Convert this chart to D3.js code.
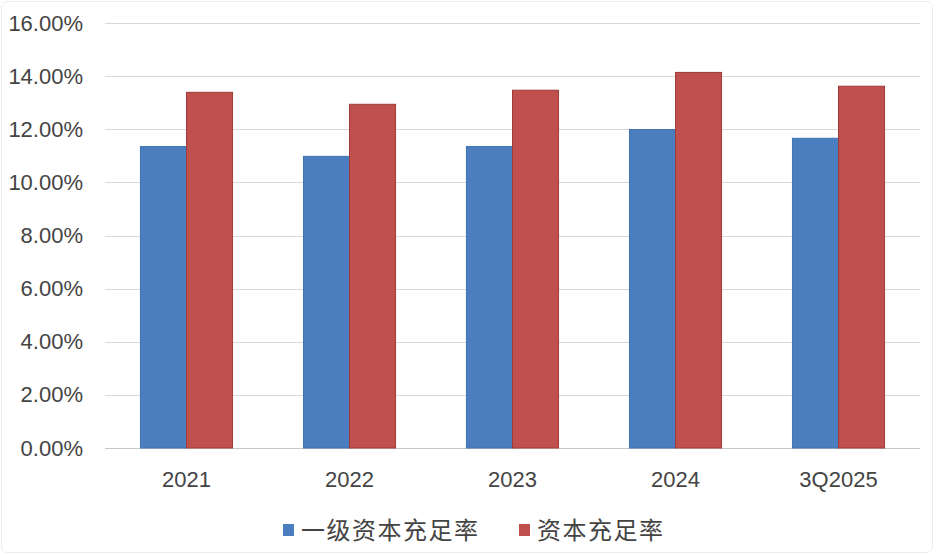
<!DOCTYPE html>
<html>
<head>
<meta charset="utf-8">
<script src="https://cdn.jsdelivr.net/npm/d3@7/dist/d3.min.js"></script>
<style>
  html, body { margin: 0; padding: 0; background: #fff; }
  #chart { width: 936px; height: 554px; }
</style>
</head>
<body>
<div id="chart"></div>
<script>
// chart data
const categories = ["2021", "2022", "2023", "2024", "3Q2025"];
const seriesNames = ["一级资本充足率", "资本充足率"];
const tier1Ratio = [11.35, 10.98, 11.35, 11.99, 11.66];
const capitalRatio = [13.39, 12.94, 13.47, 14.14, 13.62];
const yTicks = [0, 2, 4, 6, 8, 10, 12, 14, 16];

const colors = ["#4a7ebf", "#c0504d"];
const strokes = ["#4173b0", "#9e3b38"];

const width = 936,
  height = 554,
  margin = { top: 23, right: 16, bottom: 106, left: 105 };
const innerW = width - margin.left - margin.right;
const innerH = height - margin.top - margin.bottom;

const svg = d3
  .select("#chart")
  .append("svg")
  .attr("width", width)
  .attr("height", height);

// faint frame around the picture
svg
  .append("rect")
  .attr("x", 1.5)
  .attr("y", 1.5)
  .attr("width", width - 5)
  .attr("height", height - 3)
  .attr("rx", 6)
  .attr("fill", "#fff")
  .attr("stroke", "#ececec");

const g = svg
  .append("g")
  .attr("transform", "translate(" + margin.left + "," + margin.top + ")");

const x0 = d3.scaleBand().domain(categories).range([0, innerW]).paddingInner(0.435).paddingOuter(0.2175);
const x1 = d3.scaleBand().domain([0, 1]).range([0, x0.bandwidth()]);
const y = d3.scaleLinear().domain([0, 16]).range([innerH, 0]);

// gridlines
g.append("g")
  .selectAll("line")
  .data(yTicks)
  .enter()
  .append("line")
  .attr("x1", 0)
  .attr("x2", innerW)
  .attr("y1", (d) => Math.round(y(d)) + 0.5)
  .attr("y2", (d) => Math.round(y(d)) + 0.5)
  .attr("stroke", (d) => (d === 0 ? "#c8c8c8" : "#d9d9d9"))
  .attr("stroke-width", 1.2);

// y axis labels
const yAxis = g
  .append("g")
  .call(
    d3.axisLeft(y).tickValues(yTicks).tickSize(0).tickPadding(22)
      .tickFormat((d) => d3.format(".2f")(d) + "%")
  );
yAxis.select(".domain").remove();
yAxis
  .selectAll("text")
  .attr("font-family", "'Liberation Sans', Arial, sans-serif")
  .attr("font-size", 22)
  .attr("fill", "#444");

// x axis labels
const xAxis = g
  .append("g")
  .attr("transform", "translate(0," + innerH + ")")
  .call(d3.axisBottom(x0).tickSize(0).tickPadding(23));
xAxis.select(".domain").remove();
xAxis
  .selectAll("text")
  .attr("font-family", "'Liberation Sans', Arial, sans-serif")
  .attr("font-size", 22)
  .attr("fill", "#444");

// bars
const rows = categories.map((c, i) => ({ cat: c, vals: [tier1Ratio[i], capitalRatio[i]] }));
g.append("g")
  .selectAll("g")
  .data(rows)
  .enter()
  .append("g")
  .attr("transform", (d) => "translate(" + x0(d.cat) + ",0)")
  .selectAll("rect")
  .data((d) => d.vals.map((v, k) => ({ k, v })))
  .enter()
  .append("rect")
  .attr("x", (d) => x1(d.k))
  .attr("y", (d) => y(d.v))
  .attr("width", x1.bandwidth())
  .attr("height", (d) => innerH - y(d.v))
  .attr("fill", (d) => colors[d.k])
  .attr("stroke", (d) => strokes[d.k])
  .attr("stroke-width", 1);

// legend
const legendX = [283, 519];
const legend = svg
  .append("g")
  .selectAll("g")
  .data(seriesNames)
  .enter()
  .append("g")
  .attr("transform", (d, i) => "translate(" + legendX[i] + ",524)");
legend
  .append("rect")
  .attr("width", 11)
  .attr("height", 12)
  .attr("fill", (d, i) => colors[i]);
legend
  .append("text")
  .attr("x", 18)
  .attr("y", 6)
  .attr("dy", "0.36em")
  .attr("font-family", "'Noto Sans CJK SC', sans-serif")
  .attr("font-size", 24)
  .attr("letter-spacing", 1.5)
  .attr("fill", "#444")
  .text((d) => d);
</script>
</body>
</html>
